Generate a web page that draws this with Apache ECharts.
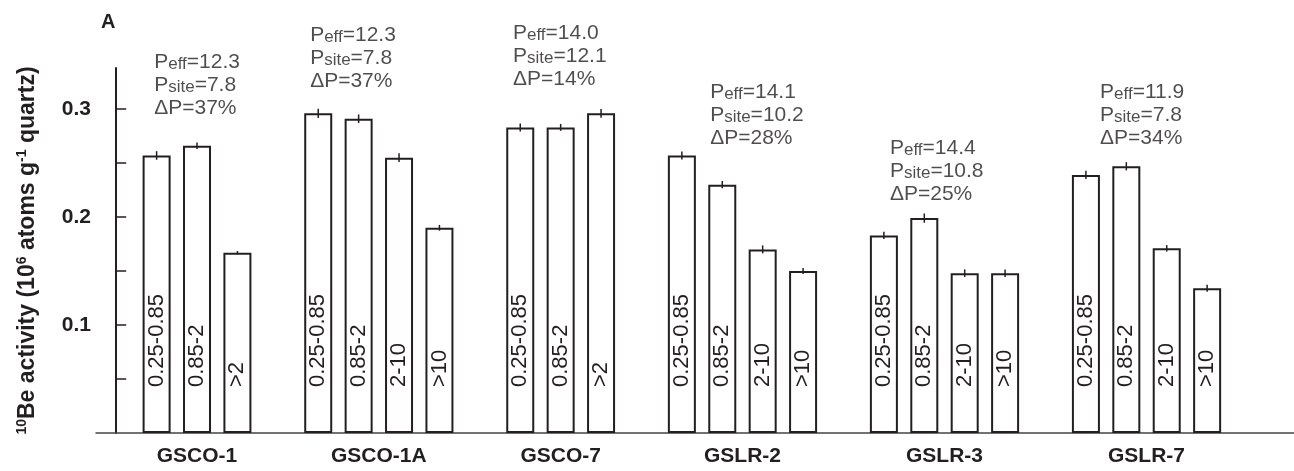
<!DOCTYPE html>
<html><head><meta charset="utf-8">
<script src="https://cdn.jsdelivr.net/npm/echarts@6/dist/echarts.min.js"></script>
<style>html,body{margin:0;padding:0;background:#fff}#c{width:1294px;height:471px}</style>
</head><body><div id="c"></div>
<script>
// ---------- data ----------
const samples = ['GSCO-1', 'GSCO-1A', 'GSCO-7', 'GSLR-2', 'GSLR-3', 'GSLR-7'];
const fractions = [
  ['0.25-0.85', '0.85-2', '>2'],
  ['0.25-0.85', '0.85-2', '2-10', '>10'],
  ['0.25-0.85', '0.85-2', '>2'],
  ['0.25-0.85', '0.85-2', '2-10', '>10'],
  ['0.25-0.85', '0.85-2', '2-10', '>10'],
  ['0.25-0.85', '0.85-2', '2-10', '>10']
];
const be10 = [
  [0.257, 0.266, 0.167],
  [0.296, 0.291, 0.255, 0.190],
  [0.283, 0.283, 0.296],
  [0.257, 0.230, 0.170, 0.150],
  [0.183, 0.199, 0.148, 0.148],
  [0.239, 0.247, 0.171, 0.134]
];
const be10Err = [
  [0.004, 0.003, 0.0015],
  [0.0042, 0.004, 0.004, 0.0027],
  [0.0037, 0.0032, 0.004],
  [0.0037, 0.0034, 0.0037, 0.0028],
  [0.0034, 0.0043, 0.0035, 0.0035],
  [0.0038, 0.0038, 0.003, 0.0032]
];
const pEff = ['12.3', '12.3', '14.0', '14.1', '14.4', '11.9'];
const pSite = ['7.8', '7.8', '12.1', '10.2', '10.8', '7.8'];
const deltaP = ['37%', '37%', '14%', '28%', '25%', '34%'];
const yTickValues = [0.05, 0.1, 0.15, 0.2, 0.25, 0.3];
const yLabelValues = [0.1, 0.2, 0.3];

// ---------- layout (annotation anchors in axis units) ----------
const notePos = [[0.94, 0.355], [4.8, 0.380], [9.82, 0.382], [14.7, 0.3275], [19.15, 0.275], [24.35, 0.3275]];
const FONT = "'Liberation Sans', Arial, Helvetica, sans-serif";
const INK = '#231f20';

// build bar slots: one empty slot before each group
const barData = [], errData = [], groupCenters = [];
let slot = 1;
samples.forEach((g, gi) => {
  const first = slot;
  be10[gi].forEach((v, i) => {
    barData.push({ value: [slot, v], name: fractions[gi][i] });
    errData.push([slot, v, be10Err[gi][i]]);
    slot++;
  });
  groupCenters.push((first + slot - 1) / 2);
  slot++;
});

const noteData = samples.map((g, i) => ({
  value: notePos[i],
  label: {
    formatter: '{p|P}{s|eff}{p|=' + pEff[i] + '}\n{p|P}{s|site}{p|=' + pSite[i] + '}\n{p|\u0394P=' + deltaP[i] + '}'
  }
}));

const chart = echarts.init(document.getElementById('c'), null, { renderer: 'canvas' });
chart.setOption({
  backgroundColor: '#ffffff',
  animation: false,
  title: {
    text: 'A', left: 96, top: 7,
    textStyle: { fontFamily: FONT, fontSize: 20, fontWeight: 'bold', color: INK }
  },
  grid: { left: 96, right: 0, top: 68, bottom: 38, outerBoundsMode: 'none', containLabel: false },
  xAxis: {
    type: 'value', min: -0.5, max: 29.15,
    splitLine: { show: false },
    axisTick: { show: false },
    axisLine: { show: true, lineStyle: { color: '#444', width: 1.5 } },
    axisLabel: {
      customValues: groupCenters,
      margin: 13,
      fontFamily: FONT, fontSize: 21, fontWeight: 'bold', color: INK,
      formatter: (val) => {
        let best = 0;
        groupCenters.forEach((c, i) => { if (Math.abs(c - val) < Math.abs(groupCenters[best] - val)) best = i; });
        return samples[best];
      }
    }
  },
  yAxis: {
    type: 'value', min: 0, max: 0.338,
    splitLine: { show: false },
    axisLine: { show: true, lineStyle: { color: INK, width: 2 } },
    axisTick: { show: true, inside: true, length: 10, customValues: yTickValues, lineStyle: { color: INK, width: 1.5 } },
    axisLabel: {
      customValues: yLabelValues, margin: 5,
      fontFamily: FONT, fontSize: 21, fontWeight: 'bold', color: INK,
      formatter: (v) => v.toFixed(1)
    },
    name: '{sup|10}{b|Be activity (10}{sup|6}{b| atoms g}{sup|-1}{b| quartz)}',
    nameLocation: 'middle', nameRotate: 90, nameGap: 55,
    nameTextStyle: {
      fontFamily: FONT, fontWeight: 'bold', fontSize: 23, color: INK,
      rich: {
        b: { fontFamily: FONT, fontWeight: 'bold', fontSize: 23, color: INK, lineHeight: 26 },
        sup: { fontFamily: FONT, fontWeight: 'bold', fontSize: 14, color: INK, verticalAlign: 'top', lineHeight: 26 }
      }
    }
  },
  series: [
    {
      type: 'bar',
      data: barData,
      barWidth: 28,
      itemStyle: { color: '#ffffff', borderColor: INK, borderWidth: 2 },
      label: {
        show: true, position: 'insideBottom', distance: 46, rotate: 90,
        align: 'left', verticalAlign: 'middle',
        fontFamily: FONT, fontSize: 22, color: INK,
        formatter: (p) => p.name
      },
      z: 2
    },
    {
      type: 'custom',
      data: errData,
      encode: { x: 0, y: 1 },
      renderItem: (params, api) => {
        const x = api.value(0), v = api.value(1), e = api.value(2);
        const a = api.coord([x, v - e]), b = api.coord([x, v + e]);
        return { type: 'line', shape: { x1: a[0], y1: a[1], x2: b[0], y2: b[1] }, style: { stroke: INK, lineWidth: 1.5 } };
      },
      z: 3
    },
    {
      type: 'scatter',
      data: noteData,
      symbolSize: 0,
      clip: false,
      silent: true,
      label: {
        show: true, position: [0, 0], align: 'left', verticalAlign: 'top',
        fontFamily: FONT, color: INK,
        rich: {
          p: { fontFamily: FONT, fontSize: 21, color: INK, lineHeight: 23, verticalAlign: 'bottom' },
          s: { fontFamily: FONT, fontSize: 17, color: INK, lineHeight: 23, verticalAlign: 'bottom' }
        }
      },
      z: 4
    }
  ]
});
</script>
</body></html>
